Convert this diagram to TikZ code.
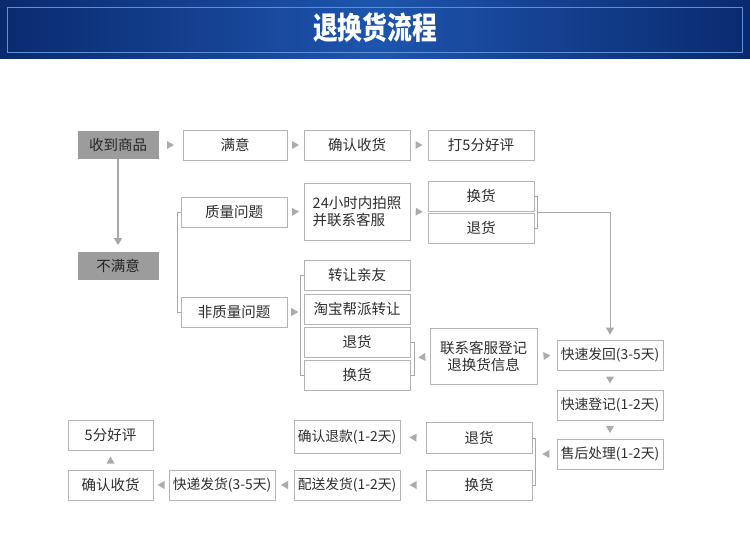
\documentclass[tikz,border=0pt]{standalone}
\usepackage{fontspec}
\setmainfont{Noto Sans CJK SC}
\usetikzlibrary{arrows.meta,decorations.markings}

\definecolor{hdrdark}{HTML}{0A2A6E}
\definecolor{hdrmid}{HTML}{1D55AE}
\definecolor{hdrline}{HTML}{5E90D8}
\definecolor{boxline}{HTML}{B4B4B4}
\definecolor{boxtext}{HTML}{2E2E2E}
\definecolor{keyfill}{HTML}{9C9C9C}
\definecolor{linegray}{HTML}{A8A8A8}
\definecolor{trigray}{HTML}{ABABAB}

\tikzset{
  box/.style={draw=boxline, line width=0.9pt, fill=white, text=boxtext,
    minimum width=106, minimum height=30, inner sep=2pt,
    font=\fontsize{14.5}{17.5}\selectfont},
  keybox/.style={box, fill=keyfill, draw=keyfill, text=black!85,
    minimum width=80, minimum height=27},
  narrow/.style={font=\fontsize{13.8}{16}\selectfont, inner sep=1pt},
  gaptri/.style={decorate, decoration={markings,
    mark=at position 0.5 with {\fill[trigray] (-3.5pt,-4pt) -- (3.5pt,0pt) -- (-3.5pt,4pt) -- cycle;}}},
  bracket/.style={draw=linegray, line width=0.9pt},
  flow/.style={draw=linegray, line width=1.3pt, -{Triangle[length=7pt,width=8pt]}},
}

\begin{document}
\begin{tikzpicture}[x=1pt, y=-1pt]
    \useasboundingbox (0,0) rectangle (750,544);
    \fill[white] (0,0) rectangle (750,544);

    % Header
    \shade[left color=hdrdark, right color=hdrdark, middle color=hdrmid] (0,0) rectangle (750,58);
    \draw[hdrline, line width=0.8pt] (7,7) rectangle (742,52);
    \node[text=white, font=\bfseries\fontsize{31}{33}\selectfont] (title) at (375,28) {\scalebox{0.8}[1]{退换货流程}};

    % Receive goods
    \node[keybox] (recv) at (118,145) {收到商品};
    \node[box, minimum width=104] (satis) at (235,145) {满意};
    \node[box] (confirmA) at (357,145) {确认收货};
    \node[box] (praiseA) at (481,145) {打5分好评};
    \node[keybox] (unsat) at (118,266) {不满意};

    % Quality problem
    \node[box] (quality) at (234,212) {质量问题};
    \node[box, minimum height=57, align=left] (photo) at (357,211.5) {24小时内拍照\\并联系客服};
    \node[box] (exchA) at (481,196) {换货};
    \node[box] (retA) at (481,228) {退货};

    % Other problem
    \node[box] (nonq) at (234,312) {非质量问题};
    \node[box] (give) at (357,275) {转让亲友};
    \node[box] (taobao) at (357,309) {淘宝帮派转让};
    \node[box] (retB) at (357,342) {退货};
    \node[box] (exchB) at (357,375) {换货};
    \node[box, minimum width=107, minimum height=56, align=center] (contact) at (483.5,356.5) {联系客服登记\\退换货信息};

    % After-sale chain
    \node[box, narrow] (sendback) at (610,355) {快速发回(3-5天)};
    \node[box, narrow] (register) at (610,405) {快速登记(1-2天)};
    \node[box, narrow] (handle) at (610,454) {售后处理(1-2天)};
    \node[box, minimum height=31] (retC) at (479,438) {退货};
    \node[box] (exchC) at (479,485) {换货};
    \node[box, narrow, minimum height=33] (refund) at (347,437) {确认退款(1-2天)};
    \node[box, narrow] (deliver) at (347,485) {配送发货(1-2天)};
    \node[box, narrow] (express) at (222,485) {快递发货(3-5天)};
    \node[box, minimum width=85] (confirmB) at (110.5,485) {确认收货};
    \node[box, minimum width=85] (praiseB) at (110.5,435) {5分好评};

    % Bracket points
    \coordinate (photoIn) at (302,312);
    \coordinate (pairA) at (537,212);
    \coordinate (pairB) at (414,358);
    \coordinate (pairC) at (535,454);
    \coordinate (exchIn) at (428,212);

    % Brackets
    \draw[bracket] (quality.west) -- ++(-3,0) |- (nonq.west);
    \draw[bracket] (give.west) -- ++(-3,0) |- (exchB.west);
    \draw[bracket] (retB.east) -- ++(4,0) |- (exchB.east);
    \draw[bracket] (exchA.east) -- ++(3,0) |- (retA.east);
    \draw[bracket] (retC.east) -- ++(3,0) |- (exchC.east);

    % Connectors
    \draw[flow, shorten >=7pt] (recv) -- (unsat);
    \draw[flow, line width=1pt, shorten >=5pt] (pairA) -| (sendback.north);
    \path[gaptri] (recv.east) -- (satis.west);
    \path[gaptri] (satis.east) -- (confirmA.west);
    \path[gaptri] (confirmA.east) -- (praiseA.west);
    \path[gaptri] (quality.east) -- (photo.west);
    \path[gaptri] (photo.east) -- (exchIn);
    \path[gaptri] (nonq.east) -- (photoIn);
    \path[gaptri] (contact.west) -- (pairB);
    \path[gaptri] (contact.east) -- (sendback.west);
    \path[gaptri] (sendback.south) -- (register.north);
    \path[gaptri] (register.south) -- (handle.north);
    \path[gaptri] (handle.west) -- (pairC);
    \path[gaptri] (retC.west) -- (refund.east);
    \path[gaptri] (exchC.west) -- (deliver.east);
    \path[gaptri] (deliver.west) -- (express.east);
    \path[gaptri] (express.west) -- (confirmB.east);
    \path[gaptri] (confirmB.north) -- (praiseB.south);
\end{tikzpicture}
\end{document}
